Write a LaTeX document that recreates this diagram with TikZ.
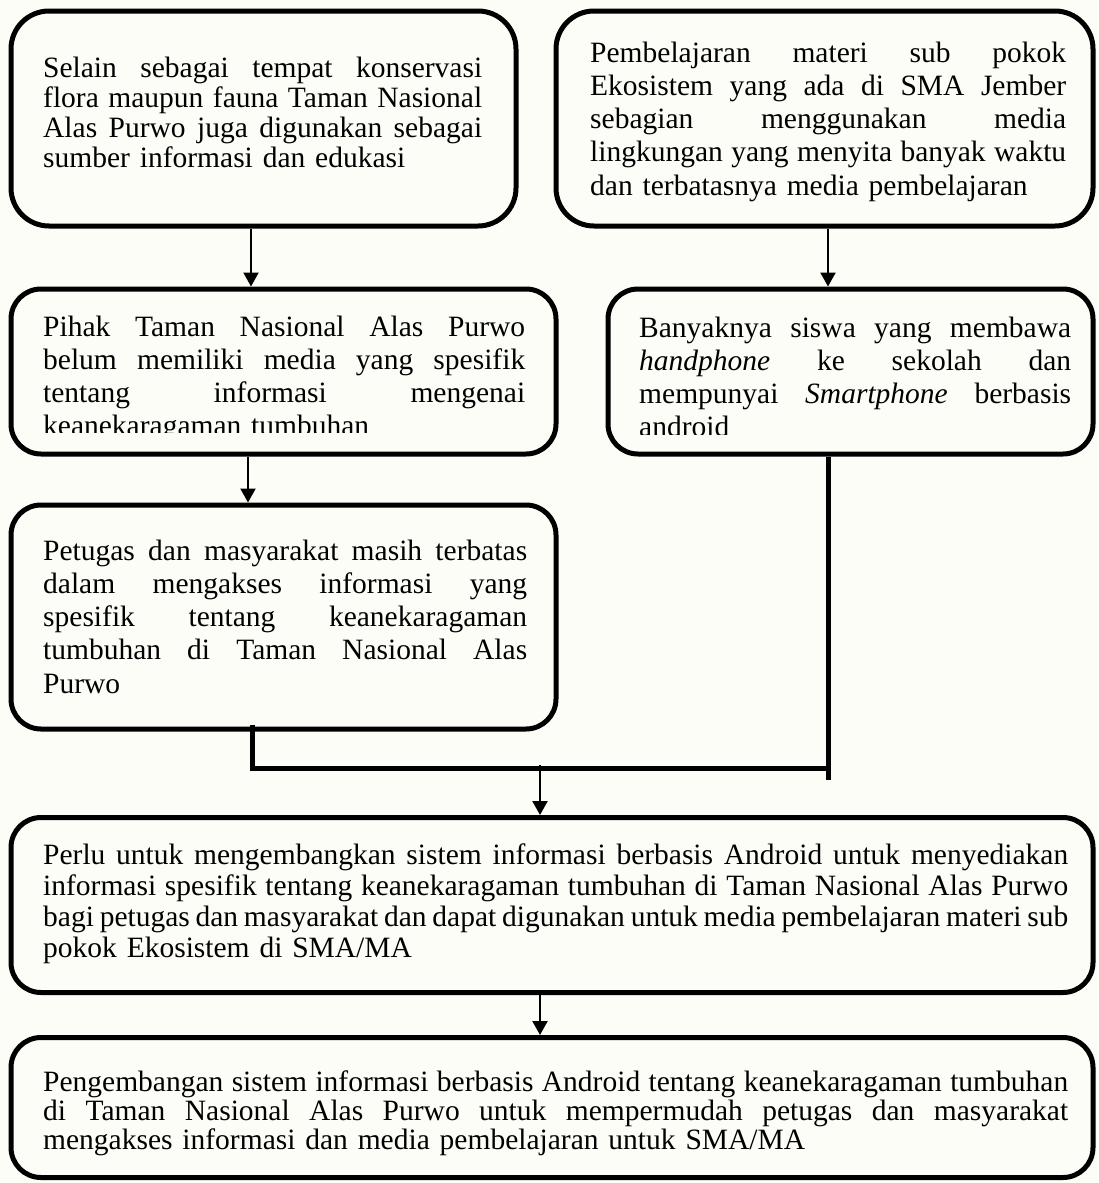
\documentclass[tikz,border=0pt]{standalone}
\usepackage{fontspec}
\setmainfont{Liberation Serif}
\usetikzlibrary{arrows.meta}
\definecolor{bgc}{RGB}{253,253,248}
\newcommand{\jl}[2]{\makebox[#1][s]{\spaceskip=0pt\xspaceskip=0pt\relax #2}\\}
\begin{document}
\begin{tikzpicture}[x=1pt,y=-1pt,
  box/.style={draw, line width=5pt, rounded corners=30pt, fill=bgc, inner sep=0pt},
  bigbox/.style={box, rounded corners=38pt},
  txt/.style={inner sep=0pt, anchor=base west, font={\fontsize{29.5}{33.3}\selectfont\spaceskip=0pt\relax}},
  txta/.style={txt, font={\fontsize{29.5}{30}\selectfont\spaceskip=0pt\relax}},
  txtb/.style={txt, font={\fontsize{29.5}{31}\selectfont\spaceskip=0pt\relax}},
  txtc/.style={txt, font={\fontsize{29.5}{29}\selectfont\spaceskip=0pt\relax}},
  arr/.style={line width=2.2pt, -{Triangle[length=14pt,width=15pt]}},
  heavy/.style={line width=5pt, line join=miter}]
\fill[bgc] (0,0) rectangle (1098,1183);
\useasboundingbox (0,0) rectangle (1098,1183);

% boxes
\node[bigbox, minimum width=505pt, minimum height=215pt] (b1) at (263.5,118.5) {};
\node[bigbox, minimum width=537pt, minimum height=215pt] (r1) at (824.5,118.5) {};
\node[box, minimum width=545pt, minimum height=165pt] (b2) at (283.5,371.5) {};
\node[box, minimum width=485pt, minimum height=165pt] (r2) at (850.5,371.5) {};
\node[box, minimum width=545pt, minimum height=224pt] (b3) at (283.5,617) {};
\node[box, minimum width=1082pt, minimum height=175pt] (b4) at (552,905) {};
\node[box, minimum width=1082pt, minimum height=140pt] (b5) at (552,1107.5) {};

% texts
\node[txta, text width=439pt] (t1) at (43,77) {%
\jl{439pt}{Selain sebagai tempat konservasi}%
\jl{439pt}{flora maupun fauna Taman Nasional}%
\jl{439pt}{Alas Purwo juga digunakan sebagai}%
sumber informasi dan edukasi};

\node[txt, text width=476pt] (tr1) at (590,62) {%
\jl{476pt}{Pembelajaran materi sub pokok}%
\jl{476pt}{Ekosistem yang ada di SMA Jember}%
\jl{476pt}{sebagian menggunakan media}%
\jl{476pt}{lingkungan yang menyita banyak waktu}%
dan terbatasnya media pembelajaran};

\begin{scope}
\clip (0,0) rectangle (600,432.5);
\node[txt, text width=482pt] (t2) at (43,336) {%
\jl{482pt}{Pihak Taman Nasional Alas Purwo}%
\jl{482pt}{belum memiliki media yang spesifik}%
\jl{482pt}{tentang informasi mengenai}%
keanekaragaman tumbuhan};
\end{scope}

\begin{scope}
\clip (600,0) rectangle (1098,434);
\node[txt, text width=432pt] (tr2) at (639,337) {%
\jl{432pt}{Banyaknya siswa yang membawa}%
\jl{432pt}{\textit{handphone} ke sekolah dan}%
\jl{432pt}{mempunyai \textit{Smartphone} berbasis}%
android};
\end{scope}

\node[txt, text width=484pt] (t3) at (43,560) {%
\jl{484pt}{Petugas dan masyarakat masih terbatas}%
\jl{484pt}{dalam mengakses informasi yang}%
\jl{484pt}{spesifik tentang keanekaragaman}%
\jl{484pt}{tumbuhan di Taman Nasional Alas}%
Purwo};

\node[txtb, text width=1025pt] (t4) at (43,864) {%
\jl{1025pt}{Perlu untuk mengembangkan sistem informasi berbasis Android untuk menyediakan}%
\jl{1025pt}{informasi spesifik tentang keanekaragaman tumbuhan di Taman Nasional Alas Purwo}%
\jl{1025pt}{bagi petugas dan masyarakat dan dapat digunakan untuk media pembelajaran materi sub}%
pokok Ekosistem di SMA/MA};

\node[txtc, text width=1025pt] (t5) at (43,1091) {%
\jl{1025pt}{Pengembangan sistem informasi berbasis Android tentang keanekaragaman tumbuhan}%
\jl{1025pt}{di Taman Nasional Alas Purwo untuk mempermudah petugas dan masyarakat}%
mengakses informasi dan media pembelajaran untuk SMA/MA};

% connectors
\coordinate (xa) at (251,0);
\coordinate (xb) at (828,0);
\coordinate (xc) at (248,0);
\coordinate (jl) at (252,768);
\coordinate (jr) at (828,768);
\coordinate (jre) at (828,780);
\coordinate (jm) at (540,765);

\draw[arr] (b1.south -| xa) -- (b2.north -| xa);
\draw[arr] (r1.south -| xb) -- (r2.north -| xb);
\draw[arr] (b2.south -| xc) -- (b3.north -| xc);
\draw[heavy] ([yshift=7pt]b3.south -| jl) -- (jl) -- (jr);
\draw[heavy] (r2.south -| jr) -- (jre);
\draw[arr] (jm) -- (b4.north -| jm);
\draw[arr] (b4.south -| jm) -- (b5.north -| jm);
\end{tikzpicture}
\end{document}
